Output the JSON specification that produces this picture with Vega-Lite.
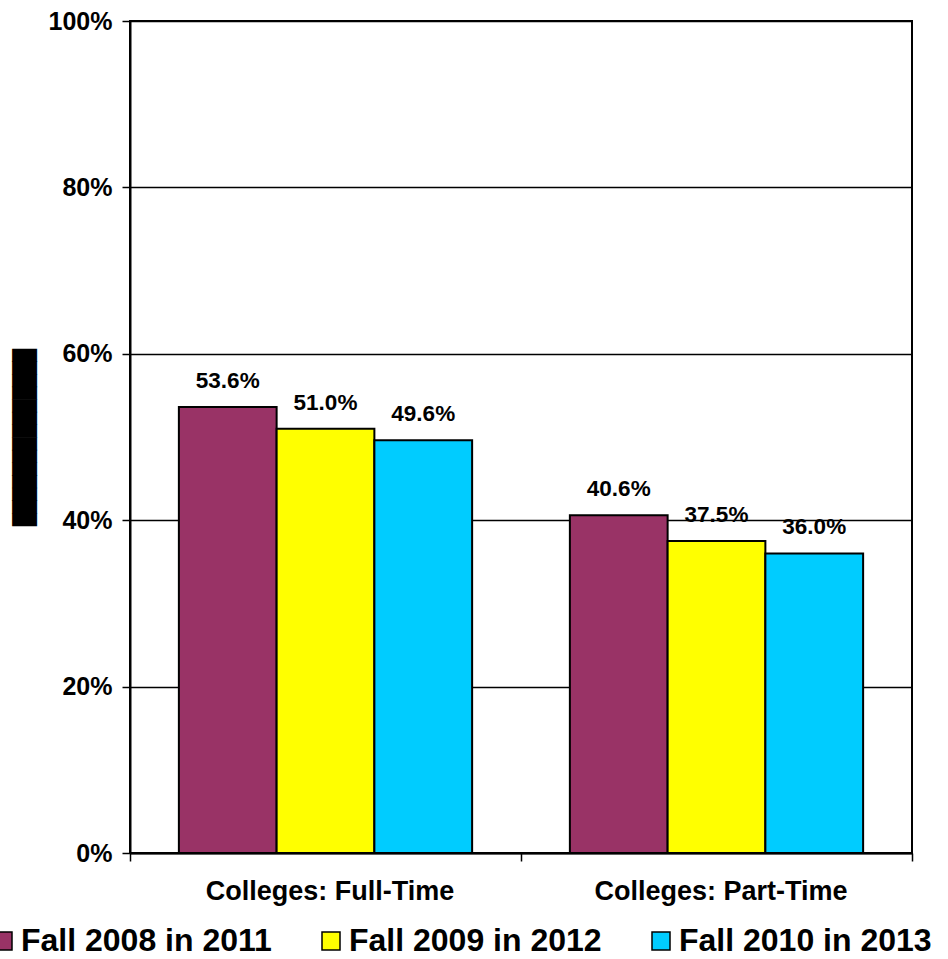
{
  "$schema": "https://vega.github.io/schema/vega-lite/v6.json",
  "width": 782,
  "height": 832,
  "autosize": {"type": "none"},
  "padding": {"left": 130, "top": 21, "right": 36, "bottom": 106},
  "background": "white",
  "data": {
    "values": [
      {"group": "Colleges: Full-Time", "cohort": "Fall 2008 in 2011", "rate": 0.536},
      {"group": "Colleges: Full-Time", "cohort": "Fall 2009 in 2012", "rate": 0.510},
      {"group": "Colleges: Full-Time", "cohort": "Fall 2010 in 2013", "rate": 0.496},
      {"group": "Colleges: Part-Time", "cohort": "Fall 2008 in 2011", "rate": 0.406},
      {"group": "Colleges: Part-Time", "cohort": "Fall 2009 in 2012", "rate": 0.375},
      {"group": "Colleges: Part-Time", "cohort": "Fall 2010 in 2013", "rate": 0.360}
    ]
  },
  "encoding": {
    "x": {
      "field": "group", "type": "nominal", "sort": null,
      "scale": {"paddingInner": 0, "paddingOuter": 0},
      "axis": {
        "title": null, "labelAngle": 0, "tickBand": "extent",
        "domainColor": "black", "domainWidth": 2,
        "tickColor": "black", "tickWidth": 1.5, "tickSize": 8,
        "labelFont": "Liberation Sans", "labelFontWeight": "bold", "labelFontSize": 27,
        "labelColor": "black", "labelPadding": 17, "labelLimit": 400, "labelOffset": 4
      }
    },
    "xOffset": {
      "field": "cohort", "sort": null,
      "scale": {"paddingInner": 0, "paddingOuter": 0.5}
    },
    "y": {
      "field": "rate", "type": "quantitative",
      "scale": {"domain": [0, 1], "nice": false},
      "axis": {
        "format": ".0%", "values": [0, 0.2, 0.4, 0.6, 0.8, 1],
        "grid": true, "gridColor": "black", "gridWidth": 1.5,
        "domainColor": "black", "domainWidth": 2,
        "tickColor": "black", "tickWidth": 1.5, "tickSize": 8,
        "labelFont": "Liberation Sans", "labelFontWeight": "bold", "labelFontSize": 25,
        "labelColor": "black", "labelPadding": 10,
        "title": "██████████████",
        "titleFont": "DejaVu Sans Mono", "titleFontSize": 21, "titleFontWeight": "normal",
        "titleColor": "black", "titlePadding": 13
      }
    }
  },
  "layer": [
    {
      "mark": {"type": "bar", "stroke": "black", "strokeWidth": 2},
      "encoding": {
        "color": {
          "field": "cohort", "type": "nominal", "sort": null,
          "scale": {
            "domain": ["Fall 2008 in 2011", "Fall 2009 in 2012", "Fall 2010 in 2013"],
            "range": ["#993366", "#FFFF00", "#00CCFF"]
          },
          "legend": {
            "title": null, "orient": "none", "direction": "horizontal",
            "legendX": -143, "legendY": 904,
            "symbolType": "square", "symbolSize": 324,
            "symbolStrokeColor": "black", "symbolStrokeWidth": 1.5,
            "labelFont": "Liberation Sans", "labelFontWeight": "bold", "labelFontSize": 32,
            "labelColor": "black", "labelLimit": 400, "labelOffset": 2,
            "columnPadding": 43
          }
        }
      }
    },
    {
      "mark": {
        "type": "text", "baseline": "alphabetic", "dy": -19,
        "font": "Liberation Sans", "fontWeight": "bold", "fontSize": 22.5, "color": "black"
      },
      "encoding": {
        "text": {"field": "rate", "type": "quantitative", "format": ".1%"}
      }
    }
  ],
  "config": {
    "view": {"stroke": "black", "strokeWidth": 2}
  }
}
